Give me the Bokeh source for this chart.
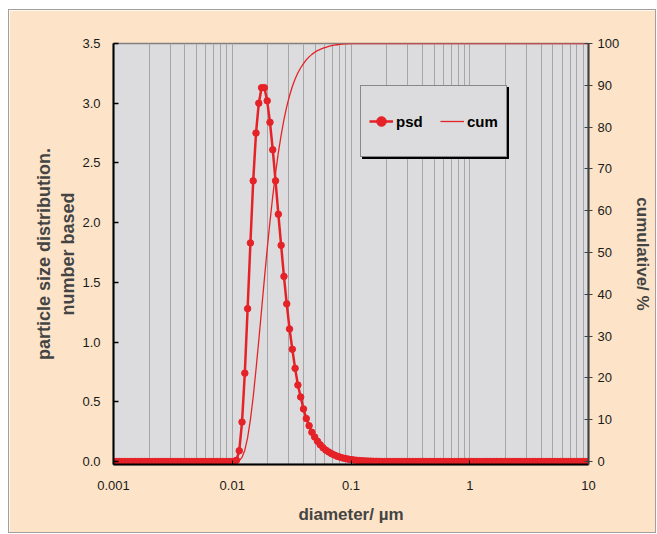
import numpy as np
from bokeh.plotting import figure
from bokeh.models import (Range1d, LinearAxis, FixedTicker,
                          PrintfTickFormatter, CustomJSTickFormatter, Legend, LegendItem)
from bokeh.embed import file_html
from bokeh.resources import INLINE

# ---- data ----
# diameter bins (log-spaced, 0.001 .. 10 um)
diameter = 10 ** (-3 + np.arange(171) * 4 / 170)

psd_peak = [0.01, 0.09, 0.33, 0.74, 1.28, 1.83, 2.35, 2.75, 3.00, 3.13, 3.13, 3.02,
            2.84, 2.61, 2.35, 2.07, 1.81, 1.55, 1.32, 1.11, 0.94, 0.78, 0.64, 0.54,
            0.44, 0.36, 0.30, 0.245, 0.205, 0.17, 0.14, 0.115, 0.095, 0.08, 0.066,
            0.055, 0.045, 0.037, 0.030, 0.025, 0.020, 0.016, 0.013, 0.010, 0.008,
            0.006, 0.005, 0.004, 0.003, 0.002, 0.0015, 0.001]
psd = [0.0] * 44 + psd_peak + [0.0] * 75

cum_rise = [0.2, 1.0, 2.7, 5.7, 10.0, 15.5, 22.0, 29.0, 36.3, 43.7, 50.8, 57.4, 63.5,
            69.0, 73.9, 78.1, 81.8, 84.9, 87.5, 89.7, 91.5, 93.0, 94.2, 95.2, 96.1,
            96.8, 97.4, 97.9, 98.3, 98.6, 98.9, 99.1, 99.3, 99.5, 99.6, 99.7, 99.8,
            99.85, 99.9, 99.93, 99.96, 99.98]
cum = [0.0] * 45 + cum_rise + [100.0] * 84

x_ticks = [0.001, 0.01, 0.1, 1, 10]
y_left_ticks = [0.0, 0.5, 1.0, 1.5, 2.0, 2.5, 3.0, 3.5]
y_right_ticks = [0, 10, 20, 30, 40, 50, 60, 70, 80, 90, 100]

RED = "#E52228"
FONT = "Liberation Sans"

# small extension below zero so the baseline markers are not cut in half
Y0 = -0.025
p = figure(x_axis_type="log", x_range=Range1d(0.001, 10), y_range=Range1d(Y0, 3.5),
           frame_width=475, frame_height=421,
           min_border_left=104, min_border_right=67, min_border_top=33, min_border_bottom=68,
           output_backend="svg", toolbar_location=None,
           background_fill_color="#DCDCDE", border_fill_color="#FDE4C8")
p.styles = {"border": "1px solid #A0A0A0", "margin-left": "8px", "margin-top": "9px"}
p.outline_line_color = "#808080"
p.outline_line_width = 1.5

p.extra_y_ranges = {"cum": Range1d(Y0 / 3.5 * 100, 100)}

# grid
minor = [m * 10.0 ** e for e in range(-3, 1) for m in range(2, 10)]
p.xaxis.ticker = FixedTicker(ticks=x_ticks, minor_ticks=minor)
p.xgrid.grid_line_color = "#A6A6A6"
p.xgrid.minor_grid_line_color = "#A6A6A6"
p.ygrid.grid_line_color = None

LABEL_SIZE = "17px"
TICK_SIZE = "13px"

# bottom axis
xa = p.xaxis[0]
xa.formatter = CustomJSTickFormatter(code="return String(tick);")
xa.axis_line_color = "black"
xa.axis_line_width = 2
xa.major_tick_in = 4
xa.major_tick_out = 0
xa.major_tick_line_color = "black"
xa.minor_tick_line_color = None
xa.major_label_standoff = 12
xa.major_label_text_font = FONT
xa.major_label_text_font_size = TICK_SIZE
xa.major_label_text_color = "#1a1a1a"
xa.axis_label = "diameter/ µm"
xa.axis_label_text_font = FONT
xa.axis_label_text_font_style = "bold"
xa.axis_label_text_font_size = LABEL_SIZE
xa.axis_label_standoff = 12

# left axis
ya = p.yaxis[0]
ya.ticker = FixedTicker(ticks=y_left_ticks)
ya.formatter = PrintfTickFormatter(format="%.1f")
ya.axis_line_color = "black"
ya.axis_line_width = 2
ya.major_tick_in = 5
ya.major_tick_out = 0
ya.major_tick_line_color = "black"
ya.major_tick_line_width = 1.5
ya.minor_tick_line_color = None
ya.major_label_standoff = 13
ya.major_label_text_font = FONT
ya.major_label_text_font_size = TICK_SIZE
ya.major_label_text_color = "#1a1a1a"
ya.axis_label = "particle size distribution.\nnumber based"
ya.axis_label_text_font = FONT
ya.axis_label_text_font_style = "bold"
ya.axis_label_text_font_size = "18px"
ya.axis_label_standoff = 1

# right axis
ra = LinearAxis(y_range_name="cum", ticker=FixedTicker(ticks=y_right_ticks))
ra.axis_line_color = "#404040"
ra.axis_line_width = 2
ra.major_tick_in = 4
ra.major_tick_out = 4
ra.major_tick_line_color = "#404040"
ra.minor_tick_line_color = None
ra.major_label_standoff = 5
ra.major_label_text_font = FONT
ra.major_label_text_font_size = TICK_SIZE
ra.major_label_text_color = "#1a1a1a"
ra.axis_label = "cumulative/ %"
ra.axis_label_text_font = FONT
ra.axis_label_text_font_style = "bold"
ra.axis_label_text_font_size = LABEL_SIZE
ra.axis_label_standoff = 11
p.add_layout(ra, "right")

# data
r_cum = p.line(diameter, cum, y_range_name="cum", color=RED, line_width=1.3)
r_psd_l = p.line(diameter, psd, color=RED, line_width=2.5)
r_psd_c = p.scatter(diameter, psd, size=6.5, color=RED)

# legend shadow (single blank item of the same size) + legend
LX, LY = 247, 307
common = dict(orientation="horizontal", padding=8, glyph_width=24,
              glyph_height=54, label_height=54, label_standoff=3,
              label_text_font=FONT, label_text_font_style="bold",
              label_text_font_size="15px", border_line_width=1,
              background_fill_alpha=1)
shadow = Legend(items=[LegendItem(label=" ", renderers=[r_cum])],
                location=(LX + 2, LY - 2), background_fill_color="black",
                border_line_color="black", label_width=102, spacing=0, **common)
leg = Legend(items=[LegendItem(label="psd", renderers=[r_psd_l, r_psd_c]),
                    LegendItem(label="cum", renderers=[r_cum])],
             location=(LX, LY), background_fill_color="#DCDCDE",
             border_line_color="#333333", label_text_color="black",
             label_width=31, spacing=13, **common)
p.add_layout(shadow, "center")
p.add_layout(leg, "center")

open("out.html", "w").write(file_html(p, INLINE))
